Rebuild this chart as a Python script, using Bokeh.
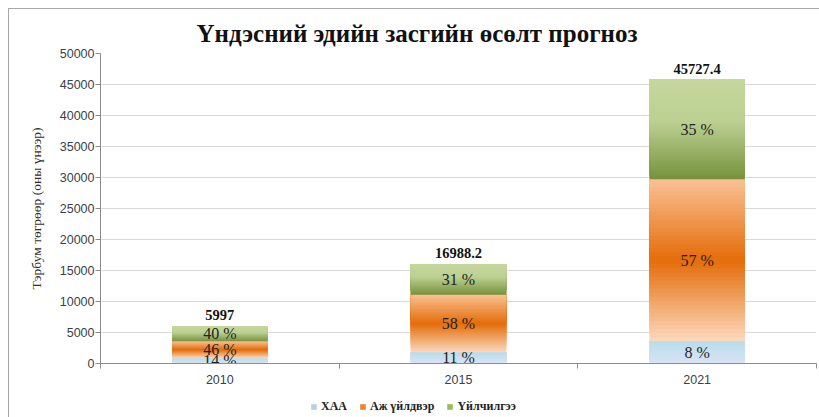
import numpy as np
from bokeh.plotting import figure
from bokeh.layouts import column
from bokeh.models import ColumnDataSource, FixedTicker, Legend, LegendItem, Range1d
from bokeh.core.properties import value
from bokeh.embed import file_html
from bokeh.resources import INLINE

# ---------------- data ----------------
years = ["2010", "2015", "2021"]
xaa = [860, 1800, 3600]            # ХАА
aj_uildver = [2730, 9300, 26100]   # Аж үйлдвэр
uilchilgee = [2400, 4900, 16100]   # Үйлчилгээ
totals = ["5997", "16988.2", "45727.4"]
pct_xaa = ["14 %", "11 %", "8 %"]
pct_aj = ["46 %", "58 %", "57 %"]
pct_uil = ["40 %", "31 %", "35 %"]
series_names = ["ХАА", "Аж үйлдвэр", "Үйлчилгээ"]
y_ticks = list(range(0, 50001, 5000))

# ---------------- styles ----------------
legend_colors = ["#b9cde5", "#f0822a", "#9bbb59"]
gradients = [
    [(0.0, (183, 221, 233)), (1.0, (219, 227, 245))],
    [(0.0, (250, 193, 148)), (0.5, (228, 108, 10)), (1.0, (252, 217, 190))],
    [(0.0, (197, 215, 156)), (0.42, (188, 208, 146)), (1.0, (117, 146, 60))],
]
BAR_W = 0.40
N_SLICES = 40


def grad_color(stops, f):
    for (f0, c0), (f1, c1) in zip(stops[:-1], stops[1:]):
        if f0 <= f <= f1:
            t = (f - f0) / (f1 - f0) if f1 > f0 else 0
            c = [round(a + (b - a) * t) for a, b in zip(c0, c1)]
            return "#%02x%02x%02x" % tuple(c)
    return "#%02x%02x%02x" % stops[-1][1]


xc = np.arange(len(years)) + 0.5
series = [xaa, aj_uildver, uilchilgee]

L, R, B, T, C = [], [], [], [], []
lab_x, lab_y, lab_t = [], [], []
pcts = [pct_xaa, pct_aj, pct_uil]
bottom = np.zeros(len(years))
for s, vals in enumerate(series):
    vals = np.array(vals, dtype=float)
    top = bottom + vals
    for i in range(len(years)):
        b, t = bottom[i], top[i]
        for k in range(N_SLICES):
            sb = b + (t - b) * k / N_SLICES
            f = 1 - (k + 0.5) / N_SLICES
            L.append(xc[i] - BAR_W / 2)
            R.append(xc[i] + BAR_W / 2)
            B.append(sb)
            T.append(t)          # each slice reaches the segment top; later slices cover it
            C.append(grad_color(gradients[s], f))
        lab_x.append(xc[i])
        lab_y.append((b + t) / 2)
        lab_t.append(pcts[s][i])
    bottom = top

p = figure(width=810, height=377, x_range=Range1d(0, 3), y_range=Range1d(0, 50000),
           output_backend="svg", toolbar_location=None,
           min_border_left=91, min_border_right=3, min_border_top=44, min_border_bottom=22)
p.outline_line_color = None
p.background_fill_color = "white"
p.border_fill_color = "white"

p.quad(source=ColumnDataSource(dict(left=L, right=R, bottom=B, top=T, color=C)),
       left="left", right="right", bottom="bottom", top="top",
       fill_color="color", line_color=None)

p.text(source=ColumnDataSource(dict(x=lab_x, y=lab_y, text=lab_t)), x="x", y="y", text="text",
       text_align="center", text_baseline="middle", text_font=value("Liberation Serif"),
       text_font_size="16px", text_color="#1e1e1e")

p.text(source=ColumnDataSource(dict(x=list(xc), y=list(bottom), text=totals)), x="x", y="y", text="text",
       text_align="center", text_baseline="middle", y_offset=-11,
       text_font=value("Liberation Serif"), text_font_style="bold",
       text_font_size="14.5px", text_color="#111111")

# title
p.title.text = "Үндэсний эдийн засгийн өсөлт прогноз"
p.title.text_font = "Liberation Serif"
p.title.text_font_size = "25px"
p.title.text_font_style = "bold"
p.title.text_color = "#111111"
p.title.align = "left"
p.title.offset = 96
p.title.standoff = 14

# y axis
p.yaxis.ticker = FixedTicker(ticks=y_ticks)
p.yaxis.major_tick_out = 5
p.yaxis.major_tick_in = 0
p.yaxis.minor_tick_line_color = None
p.yaxis.axis_line_color = "#8c8c8c"
p.yaxis.major_tick_line_color = "#8c8c8c"
p.yaxis.major_label_text_font = "Liberation Sans"
p.yaxis.major_label_text_font_size = "12.5px"
p.yaxis.major_label_text_color = "#3a3f4a"
p.yaxis.major_label_standoff = 1
p.yaxis.axis_label = "Тэрбум төгрөөр (оны үнээр)"
p.yaxis.axis_label_text_font = "Liberation Serif"
p.yaxis.axis_label_text_font_style = "normal"
p.yaxis.axis_label_text_font_size = "13.5px"
p.yaxis.axis_label_text_color = "#303030"
p.yaxis.axis_label_standoff = 13

# x axis
p.xaxis.ticker = FixedTicker(ticks=list(xc), minor_ticks=list(range(len(years) + 1)))
p.xaxis.major_label_overrides = {float(x): y for x, y in zip(xc, years)}
p.xaxis.major_tick_out = 0
p.xaxis.major_tick_in = 0
p.xaxis.minor_tick_out = 5
p.xaxis.minor_tick_in = 0
p.xaxis.axis_line_color = "#8c8c8c"
p.xaxis.minor_tick_line_color = "#8c8c8c"
p.xaxis.major_label_text_font = "Liberation Sans"
p.xaxis.major_label_text_font_size = "12.5px"
p.xaxis.major_label_text_color = "#3a3f4a"
p.xaxis.major_label_standoff = 6

p.xgrid.visible = False
p.ygrid.ticker = FixedTicker(ticks=y_ticks)
p.ygrid.grid_line_color = "#b5b5b5"
p.ygrid.grid_line_dash = "1 1"

# ---------------- legend strip ----------------
p2 = figure(width=810, height=31, x_range=Range1d(0, 1), y_range=Range1d(0, 1),
            output_backend="svg", toolbar_location=None,
            x_axis_location=None, y_axis_location=None,
            min_border_left=0, min_border_right=0, min_border_top=0, min_border_bottom=0)
p2.title.visible = False
p2.xgrid.visible = False
p2.ygrid.visible = False
p2.outline_line_color = None
p2.background_fill_color = "white"
p2.border_fill_color = "white"

# legend proxies: one swatch each, placed outside the visible range
proxies = [p2.quad(left=[-3], right=[-2], bottom=[-3], top=[-2], fill_color=c, line_color=None)
           for c in legend_colors]
legend = Legend(items=[LegendItem(label=n, renderers=[r]) for n, r in zip(series_names, proxies)],
                orientation="horizontal", location=(210, 3),
                glyph_width=7, glyph_height=7, label_height=14, label_standoff=4, spacing=12,
                padding=0, margin=0, border_line_color=None, background_fill_alpha=0,
                label_text_font="Liberation Serif", label_text_font_style="bold",
                label_text_font_size="12px", label_text_color="#222222")
p2.add_layout(legend, "center")

layout = column(p, p2, spacing=0)
layout.styles = {"margin-left": "8px", "margin-top": "8px",
                 "border-left": "1px solid #a6a6a6", "border-top": "1px solid #a6a6a6"}

open("out.html", "w").write(file_html(layout, INLINE))
